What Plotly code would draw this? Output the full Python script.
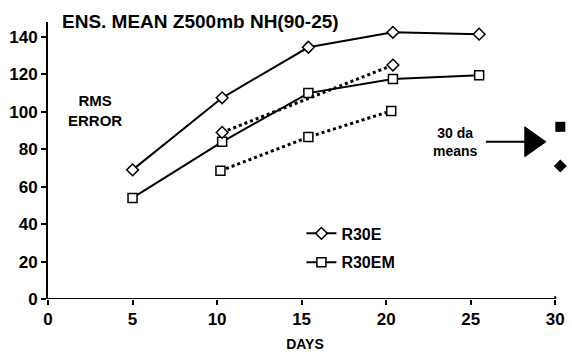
import plotly.graph_objects as go

# Data
days_e = [5, 10.3, 15.4, 20.4, 25.5]
r30e = [69, 107.5, 134.5, 142.5, 141.5]
days_em = [5, 10.3, 15.4, 20.4, 25.5]
r30em = [54, 84, 110, 117.5, 119.5]
days_e_dot = [10.3, 20.4]
r30e_dot = [89, 125]
days_em_dot = [10.2, 15.4, 20.3]
r30em_dot = [68.5, 86.5, 100.5]
mean30_x = [30.3, 30.3]
mean30_y = [92, 71]
mean30_sym = ["square", "diamond"]
xticks = [0, 5, 10, 15, 20, 25, 30]
yticks = [0, 20, 40, 60, 80, 100, 120, 140]

FONT = "Liberation Sans Narrow, Liberation Sans, Arial"
fig = go.Figure()
mk = dict(color="white", size=9, line=dict(color="black", width=1.5))
fig.add_trace(go.Scatter(x=days_e, y=r30e, mode="lines+markers", name="<b>R30E</b>",
                         legendgroup="a",
                         line=dict(color="black", width=2),
                         marker=dict(symbol="diamond", **mk), cliponaxis=False))
fig.add_trace(go.Scatter(x=days_em, y=r30em, mode="lines+markers", name="<b>R30EM</b>",
                         legendgroup="b",
                         line=dict(color="black", width=2),
                         marker=dict(symbol="square", **mk), cliponaxis=False))
fig.add_trace(go.Scatter(x=days_e_dot, y=r30e_dot, mode="lines+markers", showlegend=False,
                         line=dict(color="black", width=3, dash="dot"),
                         marker=dict(symbol="diamond", **mk), cliponaxis=False))
fig.add_trace(go.Scatter(x=days_em_dot, y=r30em_dot, mode="lines+markers", showlegend=False,
                         line=dict(color="black", width=3, dash="dot"),
                         marker=dict(symbol="square", **mk), cliponaxis=False))
fig.add_trace(go.Scatter(x=mean30_x, y=mean30_y, mode="markers", showlegend=False,
                         marker=dict(symbol=mean30_sym, color="black", size=10),
                         cliponaxis=False))

# arrow: line + filled triangle
fig.add_shape(type="line", x0=25.9, x1=28.3, y0=84, y1=84, xref="x", yref="y",
              line=dict(color="black", width=2))
fig.add_shape(type="path", path="M 28.2 76 L 29.45 84 L 28.2 92 Z", xref="x", yref="y",
              fillcolor="black", line=dict(color="black", width=1))
# x-axis line only up to 30
fig.add_shape(type="line", x0=0, x1=30, y0=0, y1=0, xref="x", yref="y",
              line=dict(color="black", width=2))
fig.add_shape(type="line", x0=30, x1=30, y0=-1.5, y1=1.5, xref="x", yref="y",
              line=dict(color="black", width=2))

fig.update_layout(
    width=572, height=356,
    margin=dict(l=48, r=7, t=22, b=57),
    plot_bgcolor="white", paper_bgcolor="white",
    font=dict(family=FONT, color="black", size=15),
    showlegend=True,
    legend=dict(x=0.493, y=0.298, xanchor="left", yanchor="top",
                bgcolor="rgba(0,0,0,0)", font=dict(size=16, family=FONT),
                itemwidth=30, traceorder="grouped", tracegroupgap=5),
    xaxis=dict(range=[0, 30.4], tickvals=xticks, ticktext=[f"<b>{v}</b>" for v in xticks],
               showgrid=False, zeroline=False, showline=False,
               ticks="outside", ticklen=5, tickcolor="black", tickwidth=2,
               tickfont=dict(size=17, family=FONT),
               title=dict(text="<b>DAYS</b>", font=dict(size=14), standoff=10)),
    yaxis=dict(range=[0, 148], tickvals=yticks, ticktext=[f"<b>{v}</b>" for v in yticks],
               showgrid=False, zeroline=False,
               showline=True, linecolor="black", linewidth=2,
               ticks="outside", ticklen=5, tickcolor="black", tickwidth=2,
               tickfont=dict(size=17, family=FONT)),
)

fig.add_annotation(x=0.024, y=1.0036, xref="paper", yref="paper", xanchor="left", yanchor="middle",
                   text="<b>ENS. MEAN Z500mb NH(90-25)</b>", showarrow=False,
                   font=dict(size=19, family=FONT))
fig.add_annotation(x=0.092, y=0.679, xref="paper", yref="paper", xanchor="center", yanchor="middle",
                   text="<b>RMS<br>ERROR</b>", showarrow=False, font=dict(size=15, family=FONT))
fig.add_annotation(x=0.793, y=0.567, xref="paper", yref="paper", xanchor="center", yanchor="middle",
                   text="<b>30 da<br>means</b>", showarrow=False, font=dict(size=14, family=FONT))

fig.write_html("out.html")
